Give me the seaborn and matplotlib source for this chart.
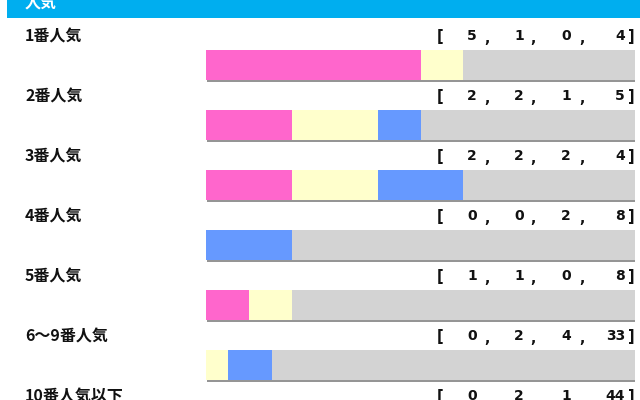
import matplotlib
matplotlib.use("Agg")
import matplotlib.pyplot as plt
import matplotlib.patheffects as pe
from matplotlib.patches import Rectangle
import numpy as np
import pandas as pd
import seaborn as sns

# ---- data ----
categories = ["1番人気", "2番人気", "3番人気", "4番人気", "5番人気", "6〜9番人気", "10番人気以下"]
first = [5, 2, 2, 0, 1, 0, 0]
second = [1, 2, 2, 0, 1, 2, 2]
third = [0, 1, 2, 2, 0, 4, 1]
other = [4, 5, 4, 8, 8, 33, 44]
header_title = "人気"

colors = {"first": "#ff66cc", "second": "#ffffcc", "third": "#6699ff", "other": "#d3d3d3"}

sns.set_theme(style="white")
plt.rcParams["font.family"] = ["Noto Sans CJK JP", "DejaVu Sans"]

df = pd.DataFrame({"cat": categories, "first": first, "second": second,
                   "third": third, "other": other})
total = df[["first", "second", "third", "other"]].sum(axis=1)
df["c1"] = df["first"] / total * 100
df["c2"] = (df["first"] + df["second"]) / total * 100
df["c3"] = (df["first"] + df["second"] + df["third"]) / total * 100
df["c4"] = 100.0

W, H = 640, 400
fig = plt.figure(figsize=(6.4, 4.0), dpi=100)
fig.patch.set_facecolor("white")

# header band
fig.patches.append(Rectangle((7 / W, 1 - 18 / H), 1 - 7 / W, 18 / H,
                             transform=fig.transFigure, facecolor="#00aeef",
                             edgecolor="none", zorder=0))
fig.text(25 / W, 1 - 4 / H, header_title, color="white", fontsize=11.5,
         fontweight="bold", va="center", ha="left")

ax = fig.add_axes([206 / W, 0, 429 / W, 1])
layers = [("c4", colors["other"]), ("c3", colors["third"]),
          ("c2", colors["second"]), ("c1", colors["first"])]
for i, (col, c) in enumerate(layers):
    sns.barplot(data=df, x=col, y="cat", order=categories, orient="h",
                color=c, saturation=1, width=0.5, ax=ax, errorbar=None)
    if i == 0:
        for p in ax.patches:
            p.set_path_effects([pe.SimplePatchShadow(offset=(0.8, -1.2),
                                                     shadow_rgbFace="#8a8a8a", alpha=0.9),
                                pe.Normal()])
for p in ax.patches:
    p.set_edgecolor("none")

ax.set_xlim(0, 100)
ax.set_ylim((H - 65) / 60, -65 / 60)
ax.axis("off")

trans = matplotlib.transforms.blended_transform_factory(fig.transFigure, ax.transData)
num_right = [477, 524, 571, 625]
comma_x = [487, 533, 582]
for i, cat in enumerate(categories):
    y = i - 0.48
    ax.text(25 / W, y, cat, transform=trans, fontsize=11.5, fontweight="bold",
            color="#111111", ha="left", va="center")
    vals = [first[i], second[i], third[i], other[i]]
    ax.text(440 / W, y, "[", transform=trans, fontsize=10.5, fontweight="bold",
            family="DejaVu Sans", ha="center", va="center", color="#111111")
    ax.text(631 / W, y, "]", transform=trans, fontsize=10.5, fontweight="bold",
            family="DejaVu Sans", ha="center", va="center", color="#111111")
    for v, xr in zip(vals, num_right):
        ax.text(xr / W, y, str(v), transform=trans, fontsize=10, fontweight="bold",
                family="DejaVu Sans", ha="right", va="center", color="#111111")
    for xc in comma_x:
        ax.text(xc / W, y + 0.04, ",", transform=trans, fontsize=10, fontweight="bold",
                family="DejaVu Sans", ha="center", va="center", color="#111111")

fig.savefig("out.png", dpi=100)
